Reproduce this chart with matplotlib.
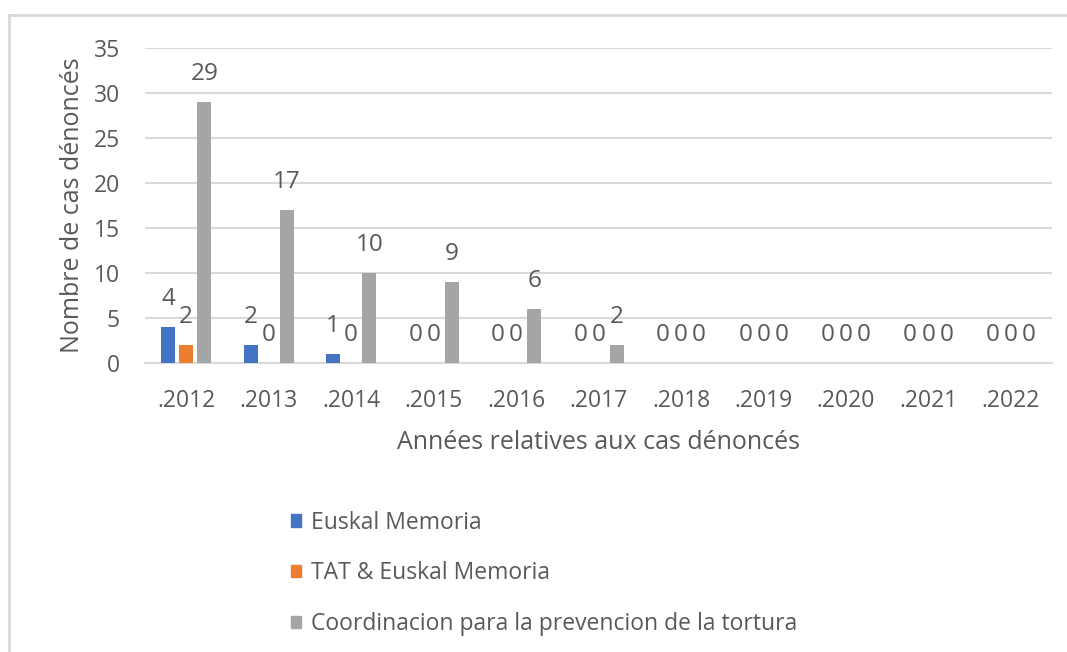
import matplotlib
matplotlib.use("Agg")
import matplotlib.pyplot as plt
import numpy as np
from matplotlib.patches import Rectangle
from matplotlib.lines import Line2D

years = [".2012", ".2013", ".2014", ".2015", ".2016", ".2017",
         ".2018", ".2019", ".2020", ".2021", ".2022"]
euskal = [4, 2, 1, 0, 0, 0, 0, 0, 0, 0, 0]
tat = [2, 0, 0, 0, 0, 0, 0, 0, 0, 0, 0]
coord = [29, 17, 10, 9, 6, 2, 0, 0, 0, 0, 0]
series_names = ["Euskal Memoria", "TAT & Euskal Memoria",
                "Coordinacion para la prevencion de la tortura"]
colors = ["#4472C4", "#ED7D31", "#A5A5A5"]

plt.rcParams['font.family'] = ['Open Sans', 'DejaVu Sans']
txt = "#595959"
grid_c = "#D9D9D9"

fig = plt.figure(figsize=(10.67, 6.52), dpi=100)
W, H = 1067, 652

# outer border (top and left)
fig.add_artist(Line2D([9 / W, 9 / W], [0, 1 - 15 / H], transform=fig.transFigure,
                      color="#D9D9D9", lw=2.0))
fig.add_artist(Line2D([9 / W, 1], [1 - 15 / H, 1 - 15 / H], transform=fig.transFigure,
                      color="#D9D9D9", lw=2.0))

ax = fig.add_axes([145 / W, 1 - 363 / H, (1052 - 145) / W, (363 - 48) / H])
x = np.arange(len(years))
width = 0.17
offsets = [-0.22, 0.0, 0.22]
all_series = [euskal, tat, coord]
for vals, off, c, name in zip(all_series, offsets, colors, series_names):
    ax.bar(x + off, vals, width=width, color=c, label=name, zorder=3)
    for xi, v in zip(x + off, vals):
        ax.annotate(str(v), (xi, v), xytext=(0, 28), textcoords="offset pixels",
                    ha="center", va="center", fontsize=17.5, color=txt)

ax.set_xlim(-0.5, len(years) - 0.5)
ax.set_ylim(0, 35)
ax.set_yticks(np.arange(0, 36, 5))
ax.yaxis.grid(True, color=grid_c, lw=1.5, zorder=0)
ax.set_axisbelow(True)
for s in ["top", "right", "left"]:
    ax.spines[s].set_visible(False)
ax.spines["bottom"].set_color(grid_c)
ax.spines["bottom"].set_linewidth(1.5)
ax.set_xticks(x)
ax.set_xticklabels(years)
ax.tick_params(axis="both", length=0, labelsize=16.5, labelcolor=txt)
ax.tick_params(axis="x", pad=19)
ax.tick_params(axis="y", pad=18)
ax.set_ylabel("Nombre de cas dénoncés", fontsize=18, color=txt, labelpad=6)
ax.set_xlabel("Années relatives aux cas dénoncés", fontsize=18, color=txt, labelpad=12)

handles = [Rectangle((0, 0), 1, 1, color=c) for c in colors]
fig.legend(handles, series_names, loc="upper left",
           bbox_to_anchor=(270 / W, 1 - 490 / H), frameon=False,
           fontsize=16.5, labelcolor=txt, handlelength=0.45, handleheight=0.45,
           handletextpad=0.45, labelspacing=1.17)

fig.savefig("out.png", dpi=100, facecolor="white")
